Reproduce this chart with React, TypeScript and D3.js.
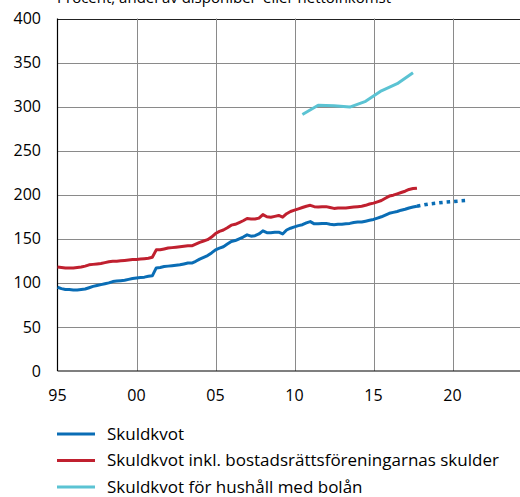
import React, { useEffect, useRef } from 'react';
import * as d3 from 'd3';

// Quarterly, 1995Q1 - 2017Q4
const startYear = 1995;
const skuldkvot = [
  95, 93.5, 92.5, 92.5, 92, 92, 92.5, 93, 94.5, 96, 97, 98, 99, 100, 101.5, 102,
  102.5, 103, 104, 105, 105.5, 106, 106.5, 107.5, 108, 117, 117.5, 118.5, 119, 119.5, 120, 120.5,
  121.5, 122.5, 122.5, 124.5, 127, 129, 131, 134, 137.5, 139.5, 141, 144, 147, 148, 150, 152,
  154.5, 153, 153.5, 155.5, 159, 157, 157, 157.5, 157.5, 155.5, 160, 162, 163.5, 165, 166, 168,
  169.5, 167, 167, 167.5, 167.5, 166.5, 166, 166.5, 166.5, 167, 167.5, 168.5, 169, 169, 170, 171,
  172, 173.5, 175, 177, 179, 180, 181, 182.5, 183.5, 185, 186, 187,
];
const skuldkvotBrf = [
  118, 117.5, 117, 117, 117, 117.5, 118, 119, 120.5, 121, 121.5, 122, 123, 124, 124.5, 124.5,
  125, 125.5, 126, 126.5, 126.5, 127, 127.5, 128, 129, 137.5, 137.5, 138.5, 139.5, 140, 140.5, 141,
  141.5, 142, 142, 144, 146, 147.5, 149, 152, 156, 158.5, 160, 162.5, 165.5, 166.5, 168.5, 170.5,
  173, 172.5, 172.5, 173.5, 177.5, 175, 174.5, 175.5, 176.5, 174.5, 178.5, 181, 182.5, 184, 185.5, 187,
  188, 186.5, 186, 186.5, 186.5, 185.5, 184.5, 185, 185, 185, 185.5, 186, 186.5, 187, 188, 189.5,
  190.5, 192, 193.5, 196, 198.5, 199.5, 201, 202.5, 204, 206, 207, 207.5,
];
// Forecast for Skuldkvot (dotted)
const prognosYears = [2017.75, 2018.5, 2019.5, 2020.5, 2020.9];
const prognosValues = [187, 189.5, 191.5, 193, 193.5];
// Households with mortgages, annual
const bolanYears = [2010.5, 2011.5, 2012.5, 2013.5, 2014.5, 2015.5, 2016.5, 2017.5];
const bolanValues = [291, 301.5, 301, 299.5, 306, 318, 326, 338.5];

const yTicks = [0, 50, 100, 150, 200, 250, 300, 350, 400];
const xTicks = [1995, 2000, 2005, 2010, 2015, 2020];
const xTickLabels = ['95', '00', '05', '10', '15', '20'];

const legendItems = [
  { label: 'Skuldkvot', color: '#0a6db5' },
  { label: 'Skuldkvot inkl. bostadsrättsföreningarnas skulder', color: '#c0202f' },
  { label: 'Skuldkvot för hushåll med bolån', color: '#5bc3d3' },
];

const W = 520;
const H = 497;
const FONT = '"Open Sans", sans-serif';

type Pt = [number, number];

const App: React.FC = () => {
  const svgRef = useRef<SVGSVGElement>(null);

  useEffect(() => {
    if (!svgRef.current) return;
    const svg = d3.select(svgRef.current);
    svg.selectAll('*').remove();

    const x = d3.scaleLinear().domain([1995, 2025]).range([57.5, 531.5]);
    const y = d3.scaleLinear().domain([0, 400]).range([371, 18.5]);

    // Title (mostly cut off at the top, as in the source)
    svg.append('text')
      .attr('x', 57)
      .attr('y', 2.5)
      .attr('font-family', FONT)
      .attr('font-size', 15)
      .attr('fill', '#000')
      .text('Procent, andel av disponibel- eller nettoinkomst');

    // Horizontal gridlines
    svg.append('g')
      .selectAll('line')
      .data(yTicks.filter(d => d > 0))
      .enter()
      .append('line')
      .attr('x1', x(1995))
      .attr('x2', W)
      .attr('y1', d => Math.round(y(d)) + 0.5)
      .attr('y2', d => Math.round(y(d)) + 0.5)
      .attr('stroke', d => (d === 400 ? '#222' : '#8a8a8a'))
      .attr('stroke-width', 1);

    // Vertical gridlines
    svg.append('g')
      .selectAll('line')
      .data([2000, 2005, 2010, 2015, 2020])
      .enter()
      .append('line')
      .attr('x1', d => Math.round(x(d)) + 0.5)
      .attr('x2', d => Math.round(x(d)) + 0.5)
      .attr('y1', y(400))
      .attr('y2', y(0))
      .attr('stroke', '#8a8a8a')
      .attr('stroke-width', 1);

    // Axis lines
    svg.append('line')
      .attr('x1', x(1995)).attr('x2', x(1995))
      .attr('y1', y(400)).attr('y2', y(0))
      .attr('stroke', '#000').attr('stroke-width', 1.2);
    svg.append('line')
      .attr('x1', x(1995)).attr('x2', W)
      .attr('y1', y(0)).attr('y2', y(0))
      .attr('stroke', '#000').attr('stroke-width', 1.2);

    // Y tick labels
    svg.append('g')
      .selectAll('text')
      .data(yTicks)
      .enter()
      .append('text')
      .attr('x', 41)
      .attr('y', d => y(d))
      .attr('dy', '0.35em')
      .attr('text-anchor', 'end')
      .attr('font-family', FONT)
      .attr('font-size', 16)
      .attr('fill', '#000')
      .text(d => String(d));

    // X tick labels
    svg.append('g')
      .selectAll('text')
      .data(xTicks)
      .enter()
      .append('text')
      .attr('x', d => x(d))
      .attr('y', 395)
      .attr('dy', '0.35em')
      .attr('text-anchor', 'middle')
      .attr('font-family', FONT)
      .attr('font-size', 16)
      .attr('fill', '#000')
      .text((d, i) => xTickLabels[i]);

    const line = d3.line<Pt>().x(d => x(d[0])).y(d => y(d[1]));
    const quarterly = (vals: number[]): Pt[] => vals.map((v, i) => [startYear + i * 0.25, v]);

    svg.append('path')
      .attr('d', line(quarterly(skuldkvotBrf)))
      .attr('fill', 'none')
      .attr('stroke', legendItems[1].color)
      .attr('stroke-width', 3)
      .attr('stroke-linejoin', 'round');

    svg.append('path')
      .attr('d', line(quarterly(skuldkvot)))
      .attr('fill', 'none')
      .attr('stroke', legendItems[0].color)
      .attr('stroke-width', 3)
      .attr('stroke-linejoin', 'round');

    svg.append('path')
      .attr('d', line(prognosYears.map((yr, i) => [yr, prognosValues[i]] as Pt)))
      .attr('fill', 'none')
      .attr('stroke', legendItems[0].color)
      .attr('stroke-width', 3.5)
      .attr('stroke-dasharray', '3.5,4');

    svg.append('path')
      .attr('d', line(bolanYears.map((yr, i) => [yr, bolanValues[i]] as Pt)))
      .attr('fill', 'none')
      .attr('stroke', legendItems[2].color)
      .attr('stroke-width', 3)
      .attr('stroke-linejoin', 'round');

    // Legend
    const legend = svg.append('g');
    legendItems.forEach((item, i) => {
      const ly = 434 + i * 26.5;
      legend.append('line')
        .attr('x1', 57).attr('x2', 95)
        .attr('y1', ly).attr('y2', ly)
        .attr('stroke', item.color)
        .attr('stroke-width', 3);
      legend.append('text')
        .attr('x', 107)
        .attr('y', ly)
        .attr('dy', '0.35em')
        .attr('font-family', FONT)
        .attr('font-size', 17)
        .attr('fill', '#000')
        .text(item.label);
    });
  }, []);

  return (
    <svg
      ref={svgRef}
      width={W}
      height={H}
      style={{ position: 'absolute', left: 0, top: 0, background: '#fff' }}
    />
  );
};

export default App;
